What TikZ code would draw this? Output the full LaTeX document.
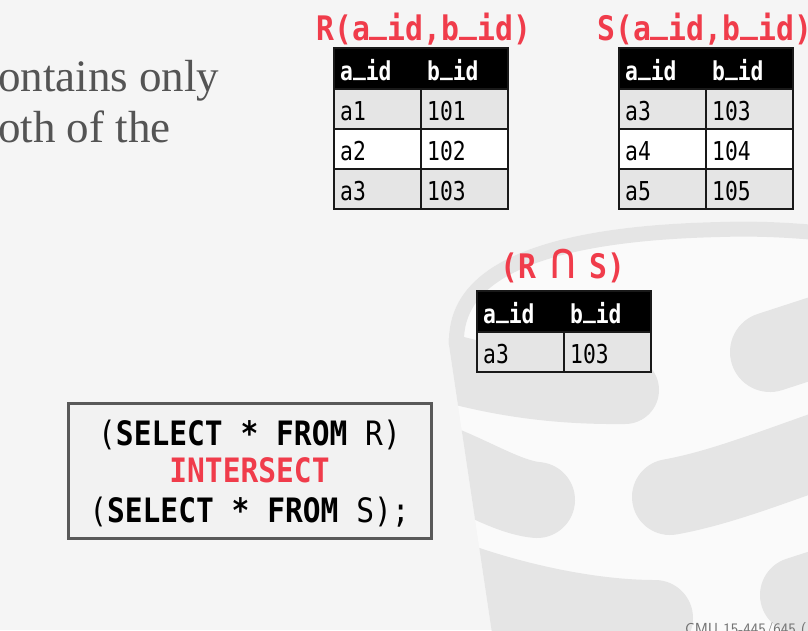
\documentclass[tikz,border=0pt]{standalone}
\usepackage{fontspec}
\usepackage{xcolor}
\newfontfamily\codefont[FakeStretch=0.88]{DejaVu Sans Mono}
\newfontfamily\cellfont[FakeStretch=0.82]{DejaVu Sans Mono}
\newfontfamily\prosefont{Liberation Serif}
\definecolor{titlered}{HTML}{F03C4B}
\newcommand{\slidecolor}{black!4!white}
\newcommand{\logocolor}{black!10!white}
\newcommand{\logoback}{black!2!white}
\newcommand{\headcolor}{black}
\newcommand{\cellgray}{black!10!white}
\newcommand{\prosecolor}{black!67!white}
\newcommand{\colw}{87}
\newcommand{\headh}{41}
\newcommand{\rowh}{40}
% underscore sitting on the baseline
\newcommand{\us}{\raisebox{0.21em}{\_}}
\newcommand{\dbtable}[4]{%
  \begin{scope}[shift={(#2,#3)}]
    \draw[tableline, fill=\headcolor] (0,0) rectangle ({2*\colw},\headh);
    \node[headtext] (#1-h1) at (6,{\headh-9}) {a\us id};
    \node[headtext] (#1-h2) at ({\colw+6},{\headh-9}) {b\us id};
    \foreach \a/\b/\c [count=\i] in {#4} {
      \draw[tableline, fill=\c] (0,{\headh+(\i-1)*\rowh}) rectangle (\colw,{\headh+\i*\rowh});
      \draw[tableline, fill=\c] (\colw,{\headh+(\i-1)*\rowh}) rectangle ({2*\colw},{\headh+\i*\rowh});
      \node[celltext] (#1-a\i) at (6,{\headh+\i*\rowh-9}) {\a};
      \node[celltext] (#1-b\i) at ({\colw+6},{\headh+\i*\rowh-9}) {\b};
    }
  \end{scope}}

\begin{document}
\begin{tikzpicture}[x=1pt, y=-1pt,
    tableline/.style={line width=1.6pt, draw=black!90},
    headtext/.style={anchor=base west, inner sep=0pt, text=white, font=\cellfont\bfseries\fontsize{26}{30}\selectfont},
    celltext/.style={anchor=base west, inner sep=0pt, text=black, font=\cellfont\fontsize{26}{30}\selectfont},
    tabletitle/.style={anchor=base west, inner sep=0pt, text=titlered, font=\codefont\bfseries\fontsize{33.8}{40}\selectfont},
    sqltext/.style={anchor=base, inner sep=0pt, text=black, font=\codefont\fontsize{33.6}{40}\selectfont},
    prose/.style={anchor=base west, inner sep=0pt, text=\prosecolor, font=\prosefont\fontsize{45}{52}\selectfont}]
        \useasboundingbox (0,0) rectangle (808,630);
        \clip (0,0) rectangle (808,630);
        \fill[\slidecolor] (0,0) rectangle (808,630);
        
        % faded database logo
        \begin{scope}
            \clip (449,345) .. controls (446,265) and (540,226) .. (720,222)
                .. controls (780,220) and (830,226) .. (880,232)
                -- (880,660) -- (496,660) -- cycle;
            \fill[\logoback] (400,150) rectangle (900,700);
            \draw[\logocolor, line width=30pt] (449,345) .. controls (446,265) and (540,226) .. (720,222)
                .. controls (780,220) and (830,226) .. (880,232);
            \draw[\logocolor, line width=68pt, line cap=round] (420,360) .. controls (480,378) and (540,391) .. (625,390);
            \draw[\logocolor, line width=80pt, line cap=round] (770,352) -- (850,326);
            \draw[\logocolor, line width=76pt, line cap=round] (420,455) .. controls (470,472) and (505,497) .. (537,500);
            \draw[\logocolor, line width=76pt, line cap=round] (670,497) .. controls (720,488) and (770,468) .. (850,440);
            \draw[\logocolor, line width=76pt, line cap=round] (430,570) .. controls (490,595) and (580,618) .. (655,618);
            \draw[\logocolor, line width=76pt, line cap=round] (798,595) -- (860,575);
        \end{scope}
        
        \node[prose] (line1) at (-2,91) {ontains only};
        \node[prose] (line2) at (-2,142) {oth of the};
        
        % the two inputs and their intersection
        \node[tabletitle] (R-title) at (316,40) {R(a\us id,b\us id)};
        \node[tabletitle] (S-title) at (597,40) {S(a\us id,b\us id)};
        \node[tabletitle] (RS-title) at (500,278) {(R \makebox[0.53em][c]{\mdseries\scalebox{1.55}[1.5]{∩}} S)};
        \dbtable{R}{334}{48}{a1/101/\cellgray, a2/102/white, a3/103/\cellgray}
        \dbtable{S}{619}{48}{a3/103/\cellgray, a4/104/white, a5/105/\cellgray}
        \dbtable{RS}{477}{291}{a3/103/\cellgray}
        
        % query box
        \node[draw=black!65!white, line width=3pt, fill=black!5!white, minimum width=363pt, minimum height=135pt, inner sep=0pt] (query) at (249.5,470.5) {};
        \node[sqltext] (q1) at (249.5,445) {(\textbf{SELECT * FROM} R)};
        \node[sqltext, text=titlered] (q2) at (249.5,482) {\textbf{INTERSECT}};
        \node[sqltext] (q3) at (249.5,522) {(\textbf{SELECT * FROM} S);};
        
        \node[anchor=base west, inner sep=0pt, text=black!55!white, font=\sffamily\fontsize{16}{18}\selectfont] (footer) at (685,634) {CMU 15-445/645 (};
\end{tikzpicture}
\end{document}
